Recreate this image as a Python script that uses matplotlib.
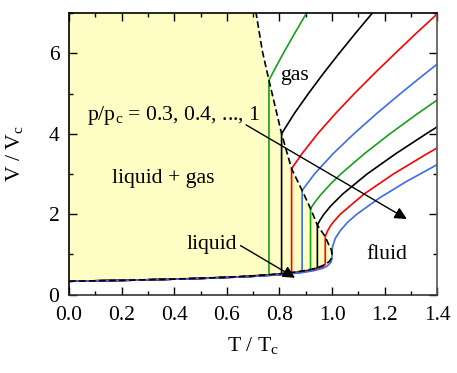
import matplotlib
matplotlib.use("Agg")
import matplotlib.pyplot as plt
from matplotlib.ticker import MultipleLocator

plt.rcParams['font.family'] = ['Liberation Serif', 'DejaVu Serif']
plt.rcParams['mathtext.fontset'] = 'custom'
plt.rcParams['mathtext.rm'] = 'Liberation Serif'

# isobars p/pc = 0.3 ... 1 : (T/Tc, V/Vc) along liquid branch, tie line, gas branch
pressures = [0.3, 0.4, 0.5, 0.6, 0.7, 0.8, 0.9, 1.0]
colors = ['#18a018', 'black', 'red', '#3a6cf0'] * 2

liq_T = [
    [0, 0.2345, 0.4763, 0.6613, 0.760],
    [0, 0.2355, 0.4788, 0.6657, 0.775, 0.808],
    [0, 0.2365, 0.4813, 0.6700, 0.7813, 0.846],
    [0, 0.2375, 0.4838, 0.6744, 0.7875, 0.8544, 0.886],
    [0, 0.2385, 0.4863, 0.6788, 0.7938, 0.8626, 0.9033, 0.918],
    [0, 0.2395, 0.4888, 0.6832, 0.800, 0.8707, 0.9133, 0.9383, 0.944],
    [0, 0.2405, 0.4913, 0.6875, 0.8063, 0.8788, 0.9233, 0.9501, 0.9655, 0.974],
    [0, 0.2415, 0.494, 0.692, 0.8125, 0.887, 0.933, 0.962, 0.979, 0.995, 0.9995],
]
liq_V = [
    [0.3333, 0.36, 0.40, 0.45, 0.495],
    [0.3333, 0.36, 0.40, 0.45, 0.50, 0.522],
    [0.3333, 0.36, 0.40, 0.45, 0.50, 0.55],
    [0.3333, 0.36, 0.40, 0.45, 0.50, 0.55, 0.587],
    [0.3333, 0.36, 0.40, 0.45, 0.50, 0.55, 0.60, 0.626],
    [0.3333, 0.36, 0.40, 0.45, 0.50, 0.55, 0.60, 0.65, 0.669],
    [0.3333, 0.36, 0.40, 0.45, 0.50, 0.55, 0.60, 0.65, 0.70, 0.75],
    [0.3333, 0.36, 0.40, 0.45, 0.50, 0.55, 0.60, 0.65, 0.70, 0.80, 0.90],
]
gas_T = [
    [0.760, 0.7815, 0.8146, 0.858, 0.903],
    [0.808, 0.856, 0.910, 0.967, 1.027, 1.089, 1.153],
    [0.846, 0.885, 0.945, 1.0125, 1.085, 1.161, 1.240, 1.320, 1.403],
    [0.886, 0.933, 1.003, 1.083, 1.169, 1.260, 1.3355, 1.403],
    [0.918, 0.9345, 0.959, 0.9939, 1.033, 1.122, 1.220, 1.325, 1.402],
    [0.944, 0.954, 0.969, 0.994, 1.040, 1.133, 1.241, 1.358, 1.399],
    [0.974, 0.977, 0.984, 0.993, 1.004, 1.031, 1.121, 1.233, 1.360, 1.400],
    [1.0, 1.0002, 1.002, 1.012, 1.032, 1.059, 1.094, 1.179, 1.279, 1.404],
]
gas_V = [
    [5.33, 5.6, 6.0, 6.5, 7.0],
    [4.0, 4.5, 5.0, 5.5, 6.0, 6.5, 7.0],
    [3.13, 3.5, 4.0, 4.5, 5.0, 5.5, 6.0, 6.5, 7.0],
    [2.59, 3.0, 3.5, 4.0, 4.5, 5.0, 5.4, 5.75],
    [2.14, 2.3, 2.5, 2.75, 3.0, 3.5, 4.0, 4.5, 4.85],
    [1.73, 1.85, 2.0, 2.2, 2.5, 3.0, 3.5, 4.0, 4.17],
    [1.44, 1.5, 1.6, 1.7, 1.8, 2.0, 2.5, 3.0, 3.5, 3.65],
    [1.0, 1.1, 1.2, 1.4, 1.6, 1.8, 2.0, 2.4, 2.8, 3.25],
]

# coexistence curve
binl_T = [0, 0.2, 0.4, 0.6, 0.7, 0.760, 0.808, 0.846, 0.886, 0.918, 0.944, 0.974, 0.99, 0.997, 1.0]
binl_V = [0.3333, 0.356, 0.387, 0.432, 0.468, 0.495, 0.522, 0.55, 0.587, 0.626, 0.669, 0.75, 0.83, 0.90, 1.0]
bing_T = [1.0, 0.997, 0.99, 0.974, 0.944, 0.918, 0.886, 0.846, 0.808, 0.760, 0.735, 0.711]
bing_V = [1.0, 1.12, 1.2, 1.44, 1.73, 2.14, 2.59, 3.13, 4.0, 5.33, 6.05, 7.0]

T_MIN, T_MAX = 0.0, 1.4
V_MIN, V_MAX = 0.0, 7.0
xticks = [0, 0.2, 0.4, 0.6, 0.8, 1.0, 1.2, 1.4]
xticklabels = ['0.0', '0.2', '0.4', '0.6', '0.8', '1.0', '1.2', '1.4']

fig = plt.figure(figsize=(4.57, 3.73), dpi=100)
ax = fig.add_axes([0.151, 0.21, 0.806, 0.755])

# yellow two-phase region
fill_T = binl_T + bing_T + [T_MIN]
fill_V = binl_V + bing_V + [V_MAX]
ax.fill(fill_T, fill_V, color='#fdfdc4', lw=0, zorder=1)

for i in range(len(pressures)):
    ax.plot(liq_T[i] + gas_T[i], liq_V[i] + gas_V[i], color=colors[i], lw=1.2, zorder=2)

ax.plot(binl_T, binl_V, color='black', lw=1.2, ls=(0, (4, 2)), zorder=3)
ax.plot(bing_T, bing_V, color='black', lw=1.2, ls=(0, (4, 2)), zorder=3)

fs = 15.7
ax.text(0.803, 5.45, 'gas', fontsize=fs, va='center')
ax.text(0.068, 4.46, r'p/p$_\mathrm{c}$ = 0.3, 0.4, ..., 1', fontsize=fs, va='center')
ax.text(0.162, 2.9, 'liquid + gas', fontsize=fs, va='center')
ax.text(0.448, 1.24, 'liquid', fontsize=fs, va='center')
ax.text(1.132, 0.99, 'fluid', fontsize=fs, va='center')

arrow = dict(arrowstyle='-|>', color='black', lw=1.0, mutation_scale=18,
             shrinkA=0, shrinkB=0)
ax.annotate('', xy=(1.284, 1.88), xytext=(0.673, 4.22), arrowprops=arrow, zorder=4)
ax.annotate('', xy=(0.859, 0.42), xytext=(0.652, 1.22), arrowprops=arrow, zorder=4)

ax.set_xlim(T_MIN, T_MAX)
ax.set_ylim(V_MIN, V_MAX)
ax.set_xticks(xticks)
ax.set_xticklabels(xticklabels)
ax.xaxis.set_minor_locator(MultipleLocator(0.1))
ax.yaxis.set_major_locator(MultipleLocator(2))
ax.yaxis.set_minor_locator(MultipleLocator(1))
ax.tick_params(which='both', direction='in', top=True, right=True, labelsize=15.5)
ax.tick_params(which='major', length=6, width=1)
ax.tick_params(which='minor', length=3, width=1)
ax.tick_params(axis='x', pad=8)
ax.tick_params(axis='y', pad=7)
for s in ax.spines.values():
    s.set_linewidth(1.2)
ax.spines['right'].set_color('#555555')
ax.spines['bottom'].set_color('#333333')

ax.set_xlabel(r'T / T$_\mathrm{c}$', fontsize=fs, labelpad=8)
ax.set_ylabel(r'V / V$_\mathrm{c}$', fontsize=fs, labelpad=16)

fig.savefig('out.png', dpi=100)
